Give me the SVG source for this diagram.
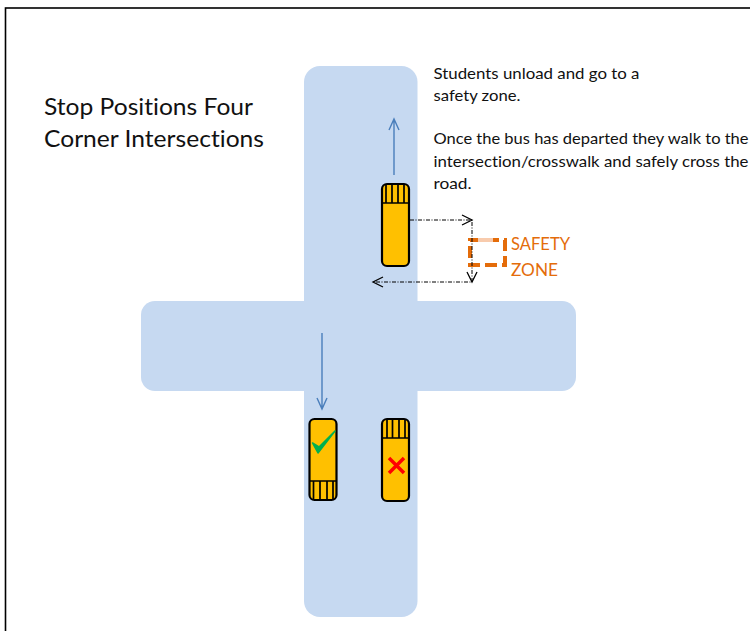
<svg xmlns="http://www.w3.org/2000/svg" width="750" height="631" viewBox="0 0 750 631">
<style>
text{font-family:Lato,"Liberation Sans",sans-serif;fill:#111;font-variant-ligatures:none}
.title{font-size:24px}
.note{font-size:15px}
.zone{font-size:17px;fill:#e46c0a}
.road{fill:#c6d9f1}
.bus{fill:#ffc000;stroke:#000;stroke-width:2.2}
.stripe{fill:none;stroke:#000;stroke-width:1.7}
.flow{fill:none;stroke:#4a7ebb;stroke-width:1.4}
.walk{fill:none;stroke:#000;stroke-width:1;stroke-dasharray:4 1.5 1 1.5}
.head{fill:none;stroke:#000;stroke-width:1.3}
</style>
<rect x="0" y="0" width="750" height="631" fill="#fff"/>
<rect id="frame" x="5.500" y="8" width="760" height="640" fill="none" stroke="#000" stroke-width="1.6"/>
<g id="road">
<rect class="road" x="304" y="66" width="113.500" height="551" rx="16"/>
<rect class="road" x="141" y="301" width="435" height="90" rx="14"/>
</g>
<g id="title"><text class="title" x="44" y="115" textLength="209" lengthAdjust="spacingAndGlyphs">Stop Positions Four</text>
<text class="title" x="44" y="147" textLength="220" lengthAdjust="spacingAndGlyphs">Corner Intersections</text></g>
<g id="note">
<text class="note" x="433.500" y="79" textLength="206" lengthAdjust="spacingAndGlyphs">Students unload and go to a</text>
<text class="note" x="433.500" y="101" textLength="87" lengthAdjust="spacingAndGlyphs">safety zone.</text>
<text class="note" x="433.500" y="144" textLength="315" lengthAdjust="spacingAndGlyphs">Once the bus has departed they walk to the</text>
<text class="note" x="433.500" y="167" textLength="315" lengthAdjust="spacingAndGlyphs">intersection/crosswalk and safely cross the</text>
<text class="note" x="433.500" y="189" textLength="38" lengthAdjust="spacingAndGlyphs">road.</text>
</g>
<g id="bus-top">
<rect class="bus" x="382" y="184" width="27" height="82" rx="5"/>
<path class="stripe" d="M382 203H409M386 184V203M392 184V203M398 184V203M404 184V203"/>
</g>
<g id="bus-left">
<rect class="bus" x="309.500" y="419" width="27" height="81" rx="5"/>
<path class="stripe" d="M309.500 481H336.500M313.500 481V500M320 481V500M327 481V500M333 481V500"/>
<path id="check" d="M312.500 443L318 453L335 431L319 447Z" fill="#00b050" stroke="#00b050" stroke-width="1.500" stroke-linejoin="round"/>
</g>
<g id="bus-right">
<rect class="bus" x="382" y="419" width="27" height="82" rx="5"/>
<path class="stripe" d="M382 438H409M387 419V438M392.500 419V438M399 419V438M405 419V438"/>
<path id="cross" d="M389 458L404 473M404 458L389 473" fill="none" stroke="#f00" stroke-width="3.500"/>
</g>
<g id="safety-zone">
<rect x="470" y="240" width="35" height="25" fill="none" stroke="#e46c0a" stroke-width="4" stroke-dasharray="12 5"/>
<rect x="478" y="238" width="15" height="4" fill="#f8cbad"/>
<text class="zone" x="511" y="250" textLength="59" lengthAdjust="spacingAndGlyphs">SAFETY</text>
<text class="zone" x="511" y="276" textLength="47" lengthAdjust="spacingAndGlyphs">ZONE</text>
</g>
<g id="connectors">
<path class="flow" d="M394 175V120M389 130L394 119L399 130"/>
<path class="flow" d="M322 333V408M317 398L322 409L327 398"/>
<path class="walk" d="M410 220H472V282H374"/>
<path class="head" d="M462 215L472 220L462 225"/>
<path class="head" d="M467 272L472 282L477 272"/>
<path class="head" d="M383 277L373 282L383 287"/>
</g>
</svg>
